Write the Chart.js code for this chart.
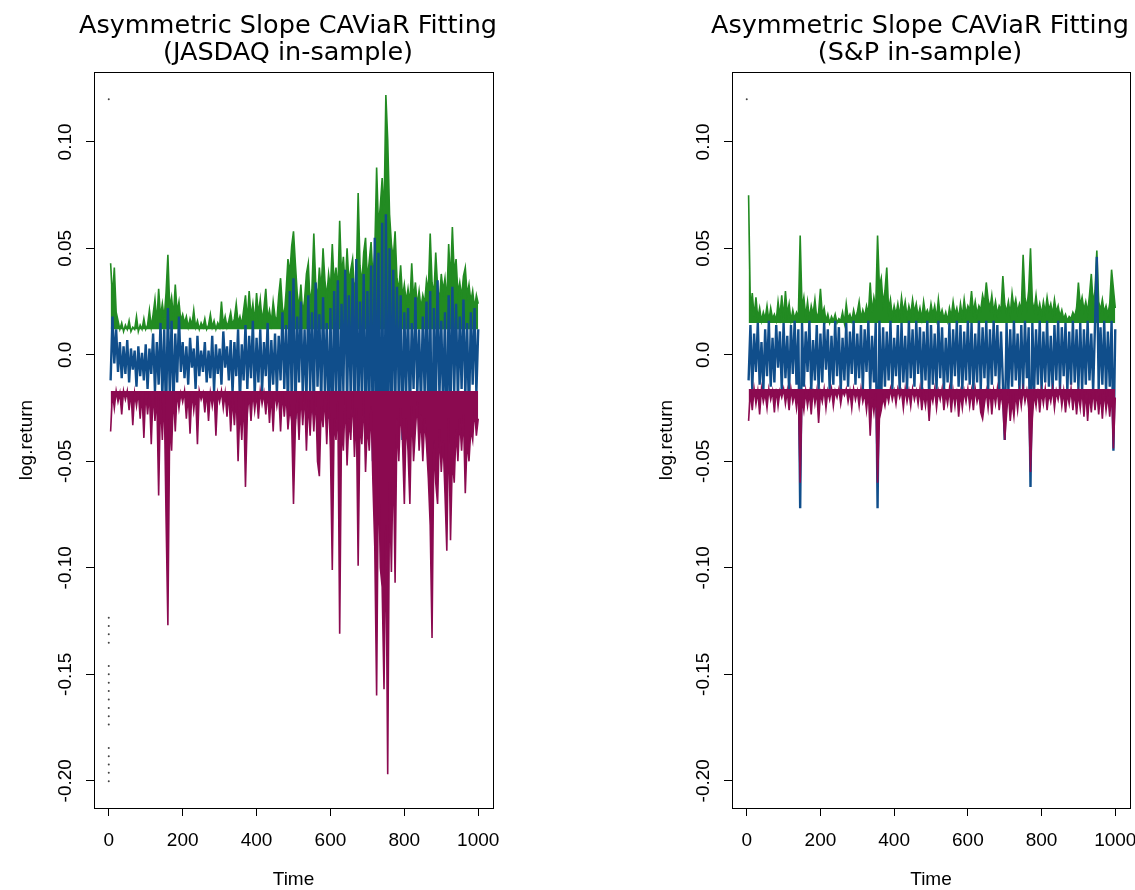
<!DOCTYPE html>
<html>
<head>
<meta charset="utf-8">
<script src="https://cdn.jsdelivr.net/npm/chart.js@4.4.0/dist/chart.umd.min.js"></script>
<style>
  body { margin: 0; background: #fff; overflow: hidden; }
  canvas { position: absolute; top: 0; }
  #jasdaq-chart { left: 0; }
  #sp-chart { left: 640px; }
</style>
</head>
<body>
<canvas id="jasdaq-chart" width="576" height="890"></canvas>
<canvas id="sp-chart" width="560" height="890"></canvas>
<script>
// one value every 5 days, t = 5 ... 1000
const timeStep = 5;
const timeTicks = [0, 200, 400, 600, 800, 1000];
const returnTicks = [-0.2, -0.15, -0.1, -0.05, 0, 0.05, 0.1];
const returnTickLabels = ['-0.20', '-0.15', '-0.10', '-0.05', '0.0', '0.05', '0.10'];

// JASDAQ: upper VaR (green), log return (blue), lower VaR (maroon)
const jqUpperFloor = 0.012;
const jqLowerFloor = -0.017;
const jqUpper = [
  0.043, 0.027, 0.041, 0.020, 0.016, 0.012, 0.015, 0.011, 0.014, 0.012,
  0.016, 0.011, 0.013, 0.012, 0.018, 0.011, 0.014, 0.012, 0.017, 0.012,
  0.014, 0.021, 0.013, 0.019, 0.026, 0.015, 0.031, 0.018, 0.024, 0.017,
  0.029, 0.047, 0.022, 0.027, 0.018, 0.033, 0.020, 0.025, 0.016, 0.019,
  0.015, 0.018, 0.013, 0.017, 0.014, 0.021, 0.013, 0.016, 0.012, 0.015,
  0.013, 0.017, 0.012, 0.014, 0.019, 0.013, 0.016, 0.012, 0.015, 0.013,
  0.025, 0.014, 0.018, 0.013, 0.016, 0.020, 0.014, 0.017, 0.024, 0.015,
  0.018, 0.014, 0.021, 0.028, 0.016, 0.030, 0.018, 0.024, 0.015, 0.029,
  0.019, 0.026, 0.016, 0.022, 0.031, 0.017, 0.021, 0.015, 0.025, 0.018,
  0.016, 0.028, 0.036, 0.022, 0.018, 0.030, 0.045, 0.038, 0.051, 0.058,
  0.043, 0.029, 0.022, 0.033, 0.019, 0.026, 0.038, 0.043, 0.024, 0.031,
  0.057, 0.034, 0.026, 0.041, 0.030, 0.050, 0.035, 0.027, 0.038, 0.031,
  0.052, 0.033, 0.041, 0.029, 0.063, 0.037, 0.046, 0.031, 0.050, 0.034,
  0.040, 0.045, 0.030, 0.036, 0.076, 0.042, 0.033, 0.048, 0.055, 0.035,
  0.044, 0.053, 0.036, 0.048, 0.088, 0.060, 0.070, 0.083, 0.065, 0.122,
  0.101, 0.066, 0.052, 0.045, 0.058, 0.036, 0.030, 0.042, 0.027, 0.033,
  0.025, 0.031, 0.024, 0.043, 0.026, 0.034, 0.023, 0.030, 0.022, 0.028,
  0.024, 0.035, 0.030, 0.057, 0.034, 0.028, 0.048, 0.032, 0.025, 0.038,
  0.030, 0.036, 0.025, 0.052, 0.034, 0.060, 0.038, 0.045, 0.029, 0.034,
  0.027, 0.037, 0.041, 0.028, 0.033, 0.025, 0.030, 0.022, 0.028, 0.024
];
const jqReturn = [
  -0.012, 0.018, -0.004, 0.012, -0.008, 0.006, -0.011, 0.004, -0.009, 0.007,
  -0.013, 0.003, -0.007, 0.002, -0.015, 0.004, -0.010, 0.001, -0.012, 0.005,
  -0.016, 0.003, -0.009, 0.010, -0.017, 0.006, -0.014, 0.015, -0.020, 0.012,
  -0.030, 0.022, -0.018, 0.016, -0.025, 0.010, -0.013, 0.018, -0.008, 0.006,
  -0.011, 0.004, -0.014, 0.008, -0.006, 0.003, -0.016, 0.009, -0.010, 0.002,
  -0.008, 0.006, -0.013, 0.002, -0.011, 0.009, -0.017, 0.005, -0.009, 0.003,
  -0.014, 0.011, -0.006, 0.004, -0.012, 0.007, -0.018, 0.006, -0.010, 0.012,
  -0.022, 0.005, -0.012, 0.014, -0.016, 0.009, -0.011, 0.016, -0.019, 0.008,
  -0.013, 0.012, -0.017, 0.006, -0.010, 0.015, -0.020, 0.007, -0.014, 0.010,
  -0.018, 0.009, -0.012, 0.020, -0.016, 0.014, -0.025, 0.030, -0.020, 0.036,
  -0.030, 0.018, -0.013, 0.025, -0.019, 0.012, -0.022, 0.028, -0.017, 0.020,
  -0.028, 0.034, -0.015, 0.019, -0.024, 0.027, -0.018, 0.015, -0.030, 0.022,
  -0.040, 0.030, -0.020, 0.035, -0.045, 0.024, -0.017, 0.040, -0.025, 0.028,
  -0.022, 0.036, -0.030, 0.045, -0.035, 0.025, -0.020, 0.038, -0.040, 0.030,
  -0.028, 0.042, -0.050, 0.055, -0.045, 0.048, -0.080, 0.062, -0.100, 0.066,
  -0.060, 0.050, -0.035, 0.040, -0.030, 0.032, -0.022, 0.028, -0.040, 0.020,
  -0.018, 0.022, -0.030, 0.015, -0.016, 0.027, -0.020, 0.012, -0.024, 0.018,
  -0.019, 0.025, -0.035, 0.030, -0.060, 0.022, -0.028, 0.035, -0.020, 0.016,
  -0.025, 0.020, -0.045, 0.028, -0.030, 0.032, -0.018, 0.024, -0.022, 0.018,
  -0.016, 0.026, -0.020, 0.015, -0.030, 0.020, -0.014, 0.022, -0.018, 0.012
];
const jqLower = [
  -0.036, -0.018, -0.025, -0.017, -0.022, -0.018, -0.028, -0.017, -0.021, -0.017,
  -0.026, -0.017, -0.033, -0.018, -0.024, -0.017, -0.030, -0.018, -0.039, -0.017,
  -0.028, -0.018, -0.042, -0.017, -0.031, -0.019, -0.066, -0.020, -0.040, -0.017,
  -0.076, -0.127, -0.030, -0.045, -0.018, -0.036, -0.017, -0.025, -0.018, -0.022,
  -0.017, -0.030, -0.018, -0.037, -0.017, -0.026, -0.018, -0.042, -0.017, -0.021,
  -0.018, -0.027, -0.017, -0.031, -0.018, -0.024, -0.017, -0.038, -0.018, -0.022,
  -0.017, -0.025, -0.018, -0.029, -0.017, -0.036, -0.020, -0.033, -0.018, -0.050,
  -0.024, -0.040, -0.019, -0.062, -0.028, -0.018, -0.031, -0.017, -0.026, -0.018,
  -0.030, -0.017, -0.023, -0.018, -0.028, -0.017, -0.032, -0.018, -0.036, -0.017,
  -0.024, -0.018, -0.036, -0.017, -0.029, -0.018, -0.035, -0.025, -0.031, -0.070,
  -0.034, -0.020, -0.040, -0.018, -0.033, -0.017, -0.045, -0.021, -0.038, -0.019,
  -0.036, -0.018, -0.050, -0.057, -0.024, -0.034, -0.019, -0.042, -0.018, -0.045,
  -0.101, -0.030, -0.040, -0.022, -0.131, -0.033, -0.045, -0.020, -0.052, -0.030,
  -0.040, -0.018, -0.048, -0.025, -0.099, -0.030, -0.042, -0.020, -0.055, -0.032,
  -0.045, -0.024, -0.060, -0.090, -0.160, -0.050, -0.100, -0.109, -0.157, -0.080,
  -0.197, -0.060, -0.102, -0.045, -0.107, -0.030, -0.050, -0.025, -0.040, -0.070,
  -0.030, -0.045, -0.070, -0.024, -0.050, -0.035, -0.022, -0.045, -0.028, -0.050,
  -0.030, -0.042, -0.058, -0.080, -0.133, -0.040, -0.060, -0.070, -0.035, -0.055,
  -0.040, -0.065, -0.092, -0.030, -0.087, -0.048, -0.060, -0.035, -0.050, -0.030,
  -0.045, -0.028, -0.065, -0.040, -0.050, -0.035, -0.040, -0.025, -0.038, -0.030
];
// small marks plotted at t = 0
const jqMarks = [0.12, -0.1234, -0.1273, -0.1312, -0.1352, -0.1461, -0.1500, -0.1540, -0.1579,
  -0.1618, -0.1658, -0.1697, -0.1736, -0.1846, -0.1885, -0.1924, -0.1963, -0.2002];

// S&P
const spUpperFloor = 0.015;
const spLowerFloor = -0.016;
const spUpper = [
  0.075, 0.021, 0.029, 0.018, 0.027, 0.017, 0.022, 0.016, 0.020, 0.017,
  0.023, 0.016, 0.022, 0.017, 0.019, 0.016, 0.025, 0.018, 0.028, 0.017,
  0.030, 0.019, 0.024, 0.016, 0.021, 0.017, 0.020, 0.018, 0.056, 0.022,
  0.027, 0.018, 0.025, 0.017, 0.023, 0.019, 0.026, 0.017, 0.020, 0.031,
  0.019, 0.022, 0.016, 0.019, 0.015, 0.018, 0.016, 0.019, 0.015, 0.017,
  0.016, 0.020, 0.015, 0.024, 0.017, 0.019, 0.016, 0.021, 0.017, 0.020,
  0.025, 0.017, 0.021, 0.018, 0.023, 0.019, 0.034, 0.020, 0.027, 0.022,
  0.056, 0.032, 0.036, 0.024, 0.030, 0.041, 0.021, 0.026, 0.018, 0.023,
  0.019, 0.024, 0.018, 0.027, 0.020, 0.025, 0.018, 0.023, 0.019, 0.026,
  0.020, 0.024, 0.018, 0.022, 0.017, 0.025, 0.019, 0.021, 0.018, 0.024,
  0.019, 0.023, 0.017, 0.026, 0.018, 0.021, 0.017, 0.020, 0.016, 0.022,
  0.018, 0.025, 0.019, 0.022, 0.017, 0.024, 0.018, 0.026, 0.019, 0.023,
  0.021, 0.030, 0.020, 0.025, 0.019, 0.023, 0.021, 0.028, 0.024, 0.034,
  0.026, 0.022, 0.028, 0.020, 0.025, 0.019, 0.023, 0.021, 0.037, 0.024,
  0.020, 0.025, 0.019, 0.029, 0.022, 0.026, 0.020, 0.024, 0.021, 0.047,
  0.027, 0.022, 0.030, 0.050, 0.025, 0.021, 0.028, 0.020, 0.024, 0.019,
  0.025, 0.020, 0.027, 0.021, 0.024, 0.019, 0.026, 0.020, 0.023, 0.018,
  0.021, 0.017, 0.019, 0.016, 0.018, 0.017, 0.020, 0.018, 0.022, 0.034,
  0.023, 0.027, 0.021, 0.025, 0.020, 0.028, 0.038, 0.024, 0.030, 0.049,
  0.025, 0.021, 0.026, 0.020, 0.023, 0.019, 0.024, 0.040, 0.031, 0.022
];
const spReturn = [
  -0.012, 0.014, -0.016, 0.010, -0.008, 0.015, -0.014, 0.006, -0.017, 0.012,
  -0.010, 0.016, -0.015, 0.008, -0.013, 0.014, -0.006, 0.011, -0.016, 0.015,
  -0.011, 0.009, -0.017, 0.014, -0.009, 0.016, -0.014, 0.012, -0.072, 0.015,
  -0.015, 0.011, -0.008, 0.016, -0.017, 0.007, -0.012, 0.014, -0.016, 0.010,
  -0.013, 0.015, -0.007, 0.012, -0.016, 0.009, -0.014, 0.016, -0.010, 0.013,
  -0.017, 0.008, -0.012, 0.015, -0.015, 0.011, -0.009, 0.016, -0.014, 0.010,
  -0.011, 0.014, -0.016, 0.012, -0.008, 0.016, -0.017, 0.009, -0.013, 0.015,
  -0.072, 0.016, -0.020, 0.013, -0.015, 0.011, -0.012, 0.016, -0.016, 0.008,
  -0.010, 0.014, -0.017, 0.015, -0.013, 0.009, -0.016, 0.016, -0.011, 0.012,
  -0.015, 0.016, -0.009, 0.013, -0.017, 0.011, -0.012, 0.016, -0.020, 0.014,
  -0.014, 0.010, -0.016, 0.016, -0.011, 0.013, -0.017, 0.008, -0.013, 0.015,
  -0.016, 0.012, -0.010, 0.016, -0.015, 0.014, -0.017, 0.011, -0.012, 0.016,
  -0.014, 0.015, -0.017, 0.010, -0.013, 0.016, -0.016, 0.013, -0.011, 0.016,
  -0.017, 0.012, -0.014, 0.016, -0.010, 0.014, -0.016, 0.011, -0.013, -0.040,
  0.015, -0.017, 0.012, -0.015, 0.016, -0.012, 0.010, -0.017, 0.014, -0.016,
  0.016, -0.011, 0.013, -0.062, 0.015, -0.016, 0.012, -0.014, 0.016, -0.017,
  0.011, -0.013, 0.016, -0.015, 0.009, -0.017, 0.014, -0.012, 0.016, -0.016,
  0.013, -0.010, 0.015, -0.017, 0.011, -0.014, 0.016, -0.013, 0.012, -0.016,
  0.015, -0.017, 0.012, -0.014, 0.016, -0.012, 0.010, -0.017, 0.014, 0.046,
  -0.016, 0.013, -0.014, 0.016, -0.017, 0.011, -0.015, 0.016, -0.045, 0.012
];
const spLower = [
  -0.031, -0.017, -0.026, -0.016, -0.023, -0.017, -0.028, -0.016, -0.022, -0.018,
  -0.025, -0.016, -0.021, -0.017, -0.027, -0.016, -0.024, -0.017, -0.020, -0.016,
  -0.023, -0.017, -0.026, -0.016, -0.022, -0.018, -0.025, -0.016, -0.060, -0.020,
  -0.026, -0.017, -0.024, -0.018, -0.028, -0.016, -0.023, -0.017, -0.032, -0.018,
  -0.022, -0.016, -0.025, -0.017, -0.021, -0.016, -0.024, -0.017, -0.020, -0.016,
  -0.023, -0.017, -0.019, -0.016, -0.022, -0.017, -0.025, -0.016, -0.021, -0.017,
  -0.024, -0.016, -0.022, -0.018, -0.026, -0.017, -0.038, -0.020, -0.027, -0.018,
  -0.060, -0.030, -0.026, -0.020, -0.024, -0.018, -0.022, -0.016, -0.021, -0.017,
  -0.023, -0.016, -0.020, -0.017, -0.025, -0.016, -0.022, -0.017, -0.024, -0.016,
  -0.021, -0.017, -0.023, -0.016, -0.026, -0.018, -0.024, -0.017, -0.031, -0.018,
  -0.022, -0.016, -0.025, -0.017, -0.021, -0.016, -0.026, -0.018, -0.023, -0.016,
  -0.027, -0.017, -0.024, -0.016, -0.029, -0.018, -0.025, -0.017, -0.022, -0.016,
  -0.024, -0.017, -0.026, -0.016, -0.022, -0.018, -0.027, -0.030, -0.023, -0.017,
  -0.025, -0.016, -0.028, -0.017, -0.023, -0.016, -0.026, -0.018, -0.024, -0.040,
  -0.028, -0.017, -0.031, -0.022, -0.029, -0.018, -0.026, -0.017, -0.024, -0.016,
  -0.022, -0.017, -0.025, -0.055, -0.030, -0.018, -0.024, -0.016, -0.027, -0.017,
  -0.023, -0.016, -0.026, -0.018, -0.022, -0.016, -0.025, -0.017, -0.021, -0.016,
  -0.024, -0.017, -0.027, -0.018, -0.023, -0.016, -0.026, -0.017, -0.028, -0.018,
  -0.025, -0.016, -0.029, -0.017, -0.031, -0.018, -0.027, -0.016, -0.026, -0.017,
  -0.028, -0.018, -0.030, -0.017, -0.026, -0.019, -0.029, -0.017, -0.044, -0.020
];
const spMarks = [0.12];

const axisFont = "'Liberation Sans', Arial, sans-serif";

const toPoints = (values) => values.map((v, i) => ({ x: (i + 1) * timeStep, y: v }));
const toMarks = (values) => values.map((v) => ({ x: 0, y: v }));

// R-style box round the plot region
const plotBox = {
  id: 'plotBox',
  afterDraw(chart) {
    const { ctx, chartArea } = chart;
    ctx.save();
    ctx.strokeStyle = '#000';
    ctx.lineWidth = 1;
    ctx.strokeRect(Math.round(chartArea.left) + 0.5, Math.round(chartArea.top) + 0.5,
      Math.round(chartArea.right - chartArea.left), Math.round(chartArea.bottom - chartArea.top));
    ctx.restore();
  }
};

// the dense daily lines read as a solid band between the VaR floor and the spikes
const lineSet = (label, values, color, order, floor, width) => ({
  label,
  data: toPoints(values),
  borderColor: color,
  backgroundColor: color,
  borderWidth: width,
  fill: floor === null ? false : { value: floor },
  pointRadius: 0,
  tension: 0,
  order
});

// the title is centred on the whole canvas; an empty right-hand axis keeps
// the plot box where it belongs
const makeChart = (id, name, upper, ret, lower, marks, upperFloor, lowerFloor, leftWidth, rightWidth) => {
  const ctx = document.getElementById(id).getContext('2d');
  return new Chart(ctx, {
    type: 'line',
    data: {
      datasets: [
        lineSet('lower VaR', lower, '#8B0A50', 0, lowerFloor, 1.6),
        lineSet('log.return', ret, '#104E8B', 1, null, 2.4),
        lineSet('upper VaR', upper, '#228B22', 2, upperFloor, 1.6),
        {
          type: 'scatter',
          label: 'marks',
          data: toMarks(marks),
          pointRadius: 1,
          pointBackgroundColor: '#444',
          pointBorderWidth: 0,
          showLine: false,
          order: 3
        }
      ]
    },
    options: {
      responsive: false,
      animation: false,
      layout: { padding: 0 },
      plugins: {
        legend: { display: false },
        tooltip: { enabled: false },
        title: {
          display: true,
          text: ['Asymmetric Slope CAViaR Fitting', '(' + name + ' in-sample)'],
          color: '#000',
          font: { family: 'DejaVu Sans', size: 25.5, weight: 'normal', lineHeight: 1.06 },
          padding: { top: 13, bottom: 5 }
        }
      },
      scales: {
        x: {
          type: 'linear',
          min: -40,
          max: 1040,
          afterBuildTicks: (s) => { s.ticks = timeTicks.map((v) => ({ value: v })); },
          afterFit: (s) => { s.height = 82; s.paddingLeft = 0; s.paddingRight = 0; },
          grid: { drawOnChartArea: false, tickLength: 8, color: '#000' },
          border: { display: true, color: '#000' },
          ticks: {
            color: '#000',
            padding: 13,
            maxRotation: 0,
            font: { family: axisFont, size: 19, lineHeight: 1.2 },
            callback: (v, i) => String(timeTicks[i])
          },
          title: {
            display: true,
            text: 'Time',
            color: '#000',
            font: { family: axisFont, size: 19, lineHeight: 1.0 },
            padding: { top: 0, bottom: 1 }
          }
        },
        y: {
          type: 'linear',
          min: -0.2128,
          max: 0.1328,
          afterBuildTicks: (s) => { s.ticks = returnTicks.map((v) => ({ value: v })); },
          afterFit: (s) => { s.width = leftWidth; s.paddingTop = 0; s.paddingBottom = 0; },
          grid: { drawOnChartArea: false, tickLength: 8, color: '#000' },
          border: { display: true, color: '#000' },
          ticks: {
            color: '#000',
            minRotation: 90,
            maxRotation: 90,
            crossAlign: 'center',
            padding: -1,
            font: { family: axisFont, size: 19, lineHeight: 1.2 },
            callback: (v, i) => returnTickLabels[i]
          },
          title: {
            display: true,
            text: 'log.return',
            color: '#000',
            font: { family: axisFont, size: 19, lineHeight: 1.2 },
            padding: { top: 15, bottom: 0 }
          }
        },
        spacer: {
          type: 'linear',
          position: 'right',
          display: true,
          grid: { display: false },
          border: { display: false },
          ticks: { display: false },
          afterFit: (s) => { s.width = rightWidth; s.paddingTop = 0; s.paddingBottom = 0; }
        }
      }
    },
    plugins: [plotBox]
  });
};

makeChart('jasdaq-chart', 'JASDAQ', jqUpper, jqReturn, jqLower, jqMarks, jqUpperFloor, jqLowerFloor, 94, 83);
makeChart('sp-chart', 'S&P', spUpper, spReturn, spLower, spMarks, spUpperFloor, spLowerFloor, 92, 70);
</script>
</body>
</html>
